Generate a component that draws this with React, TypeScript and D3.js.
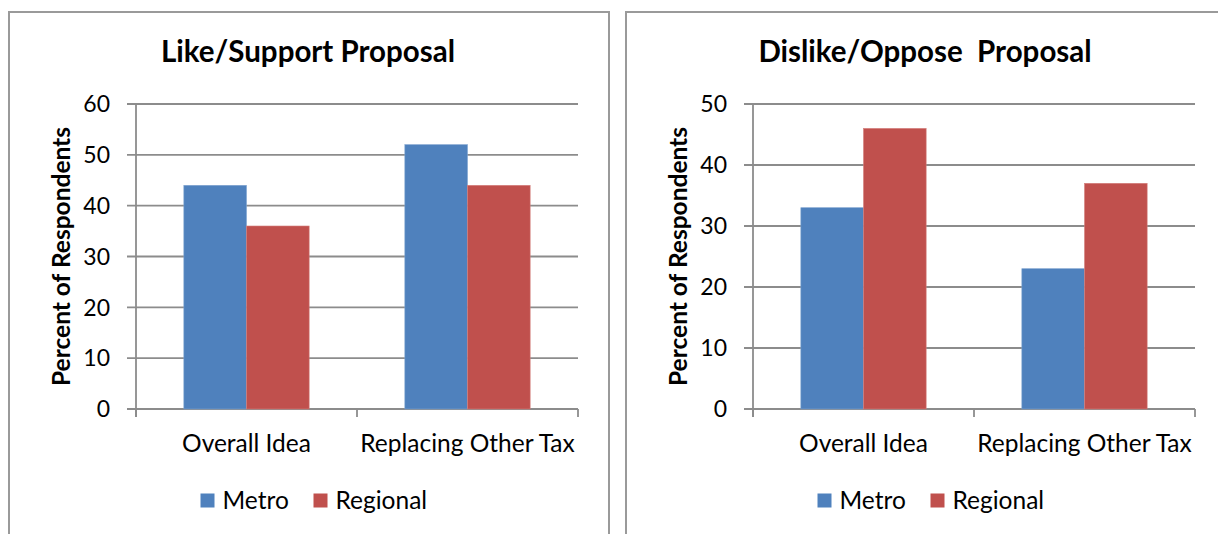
import React from "react";
import * as d3 from "d3";

// Survey categories and groups
const categories = ["Overall Idea", "Replacing Other Tax"];
const seriesNames = ["Metro", "Regional"];
const seriesColors = ["#4F81BD", "#C0504D"];

// Percent of respondents who like / support the proposal
const supportMetro = [44, 52];
const supportRegional = [36, 44];
const supportTicks = [0, 10, 20, 30, 40, 50, 60];

// Percent of respondents who dislike / oppose the proposal
const opposeMetro = [33, 23];
const opposeRegional = [46, 37];
const opposeTicks = [0, 10, 20, 30, 40, 50];

const W = 1218;
const H = 534;
const FONT = "Lato, 'Open Sans', sans-serif";
const GRID = "#8c8c8c";

type PanelProps = {
  left: number;
  title: string;
  metro: number[];
  regional: number[];
  ticks: number[];
};

function Panel({ left, title, metro, regional, ticks }: PanelProps) {
  const frameW = 600;
  const plotX0 = left + 127;
  const plotX1 = plotX0 + 442;
  const plotTop = 104;
  const plotBottom = 409;

  const y = d3
    .scaleLinear()
    .domain([0, d3.max(ticks) as number])
    .range([plotBottom, plotTop]);

  const x = d3
    .scaleBand<string>()
    .domain(categories)
    .range([plotX0, plotX1])
    .paddingInner(0.433)
    .paddingOuter(0.2165);

  const xs = d3
    .scaleBand<string>()
    .domain(seriesNames)
    .range([0, x.bandwidth()])
    .padding(0);

  const values = [metro, regional];
  const step = x.step();
  const catTicks = d3.range(categories.length + 1).map((i) => plotX0 + i * step);

  return (
    <g>
      {/* chart frame (open at the bottom edge of the page) */}
      <path
        d={`M${left},${H + 10} V12 H${left + frameW} V${H + 10}`}
        fill="none"
        stroke="#9a9a9a"
        strokeWidth={2}
      />

      <text
        x={left + 299}
        y={62}
        textAnchor="middle"
        fontFamily={FONT}
        fontWeight="bold"
        fontSize={29.5}
        fill="#000"
        style={{ whiteSpace: "pre" }}
      >
        {title}
      </text>

      {/* horizontal gridlines with left tick stubs */}
      {ticks.map((t) => (
        <line
          key={`g${t}`}
          x1={plotX0 - 9}
          x2={plotX1}
          y1={y(t)}
          y2={y(t)}
          stroke={GRID}
          strokeWidth={1.8}
        />
      ))}

      {/* value axis */}
      <line x1={plotX0} x2={plotX0} y1={plotTop} y2={plotBottom + 8} stroke={GRID} strokeWidth={1.8} />

      {/* category axis ticks */}
      {catTicks.map((cx, i) => (
        <line key={`c${i}`} x1={cx} x2={cx} y1={plotBottom} y2={plotBottom + 8} stroke={GRID} strokeWidth={1.8} />
      ))}

      {ticks.map((t) => (
        <text
          key={`t${t}`}
          x={plotX0 - 26}
          y={y(t)}
          dy="0.36em"
          textAnchor="end"
          fontFamily={FONT}
          fontSize={23}
          fill="#000"
        >
          {t}
        </text>
      ))}

      {/* bars */}
      {categories.map((c, ci) =>
        seriesNames.map((s, si) => {
          const v = values[si][ci];
          return (
            <rect
              key={`${c}-${s}`}
              x={(x(c) as number) + (xs(s) as number)}
              y={y(v)}
              width={xs.bandwidth()}
              height={y(0) - y(v)}
              fill={seriesColors[si]}
              stroke={si === 0 ? "#7fa3d0" : "#d47f7c"}
              strokeWidth={0.6}
            />
          );
        })
      )}

      {categories.map((c) => (
        <text
          key={`l${c}`}
          x={(x(c) as number) + x.bandwidth() / 2}
          y={451.5}
          textAnchor="middle"
          fontFamily={FONT}
          fontSize={24.5}
          fill="#000"
        >
          {c}
        </text>
      ))}

      <text
        transform={`translate(${left + 61},${(plotTop + plotBottom) / 2}) rotate(-90)`}
        textAnchor="middle"
        fontFamily={FONT}
        fontWeight="bold"
        fontSize={24.5}
        fill="#000"
      >
        Percent of Respondents
      </text>

      {/* legend */}
      {seriesNames.map((s, si) => {
        const sx = left + (si === 0 ? 191.5 : 304.5);
        return (
          <g key={`lg${s}`}>
            <rect x={sx} y={493.5} width={14} height={14} fill={seriesColors[si]} />
            <text x={sx + 22} y={508.5} fontFamily={FONT} fontSize={24.5} fill="#000">
              {s}
            </text>
          </g>
        );
      })}
    </g>
  );
}

export default function App() {
  return (
    <svg
      width={W}
      height={H}
      viewBox={`0 0 ${W} ${H}`}
      style={{ position: "absolute", left: 0, top: 0, background: "#fff" }}
    >
      <rect width={W} height={H} fill="#fff" />
      <Panel left={9} title="Like/Support Proposal" metro={supportMetro} regional={supportRegional} ticks={supportTicks} />
      <Panel left={626} title="Dislike/Oppose  Proposal" metro={opposeMetro} regional={opposeRegional} ticks={opposeTicks} />
    </svg>
  );
}
